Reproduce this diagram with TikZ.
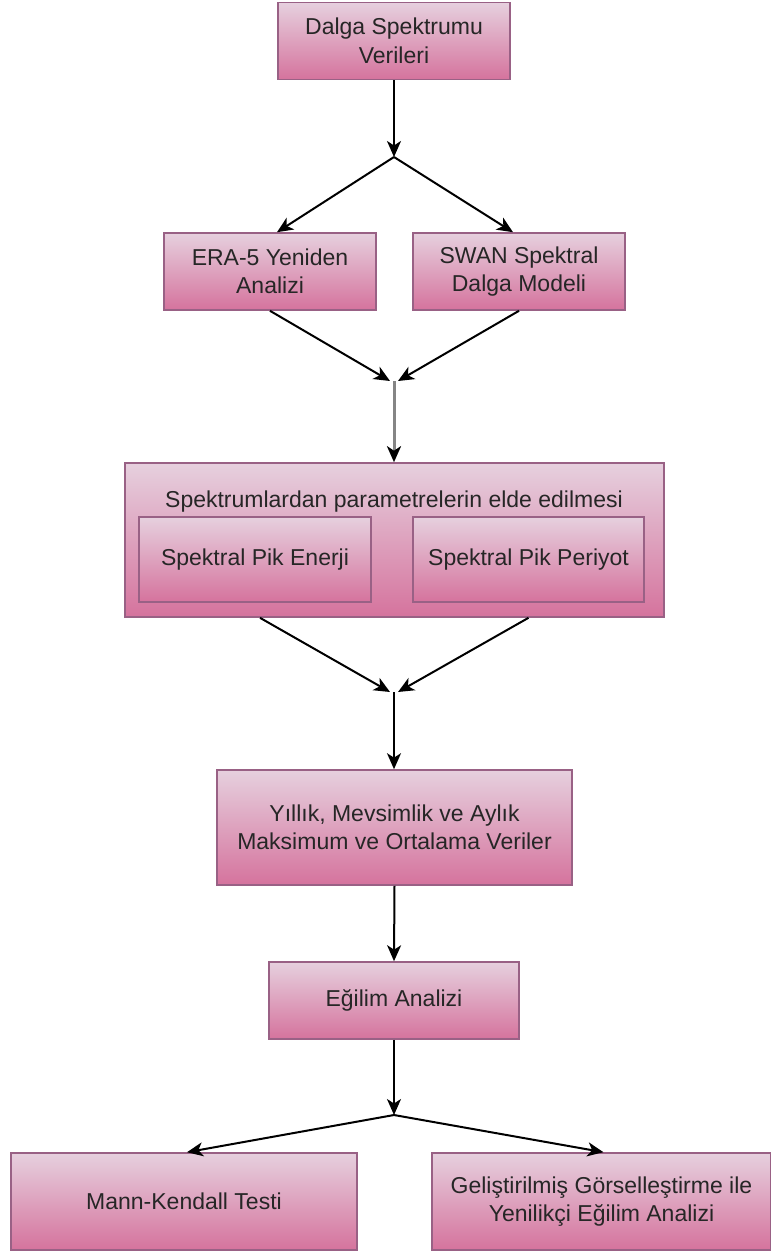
\documentclass[tikz,border=0pt]{standalone}
\usepackage{fontspec}
\setmainfont{Liberation Sans}
\usetikzlibrary{arrows.meta}
\usetikzlibrary{positioning}
\definecolor{pinkTop}{HTML}{E6D0DE}
\definecolor{pinkBot}{HTML}{D5739D}
\definecolor{pinkLine}{HTML}{996185}
\definecolor{txtGray}{HTML}{262626}
\definecolor{lineGray}{HTML}{858585}

\begin{document}
\begin{tikzpicture}[x=1pt,y=-1pt,line width=1.6pt,
  >={Stealth[length=16pt,width=14pt,inset=4.5pt]},
  box/.style={rectangle,draw=pinkLine,top color=pinkTop,bottom color=pinkBot,
    text=txtGray,align=center,inner sep=0pt,font=\fontsize{23}{28.5}\selectfont},
  label text/.style={text=txtGray,inner sep=0pt,font=\fontsize{23}{28.5}\selectfont},
  flow/.style={->,black,line width=2pt}]

  \useasboundingbox (0,0) rectangle (771,1251);

  % boxes
  \node[box,minimum width=232pt,minimum height=77pt] (data) at (394,41) {Dalga Spektrumu\\Verileri};
  \node[box,minimum width=212pt,minimum height=77pt] (era) at (270,271.5) {ERA-5 Yeniden\\Analizi};
  \node[box,minimum width=212pt,minimum height=77pt] (swan) at (519,271.5) {SWAN Spektral\\Dalga Modeli};

  \node[box,minimum width=539pt,minimum height=154pt] (param) at (394.5,540) {};
  \node[label text,anchor=base] (paramtitle) at (394,507) {Spektrumlardan parametrelerin elde edilmesi};
  \node[box,minimum width=232pt,minimum height=85pt] (enerji) at (255,559.5) {Spektral Pik Enerji};
  \node[box,minimum width=231pt,minimum height=85pt] (periyot) at (528.5,559.5) {Spektral Pik Periyot};

  \node[box,minimum width=355pt,minimum height=115pt] (yillik) at (394.5,827.5) {Yıllık, Mevsimlik ve Aylık\\Maksimum ve Ortalama Veriler};
  \node[box,minimum width=250pt,minimum height=77pt] (egilim) at (394,1000.5) {Eğilim Analizi};
  \node[box,minimum width=346pt,minimum height=97pt] (mann) at (184,1201.5) {Mann-Kendall Testi};
  \node[box,minimum width=339pt,minimum height=97pt] (yenilikci) at (601.5,1201.5) {Geliştirilmiş Görselleştirme ile\\Yenilikçi Eğilim Analizi};

  % junctions
  \coordinate (j1) at (394,157);
  \coordinate (j2) at (394,381);
  \coordinate (j3) at (394,692);
  \coordinate (j4) at (394,1115);

  % connectors
  \draw[flow] (data.south) -- (j1);
  \draw[flow] (j1) -- ([xshift=7pt]era.north);
  \draw[flow] (j1) -- ([xshift=-6pt]swan.north);
  \draw[flow] (era.south) -- ([xshift=-4pt]j2);
  \draw[flow] (swan.south) -- ([xshift=4pt]j2);
  \draw[lineGray,line width=3pt,-{Stealth[length=16pt,width=14pt,inset=4.5pt,black]}] (j2) -- (j2 |- param.north);
  \draw[flow] (param.south -| enerji.south) ++(5,0) -- ([xshift=-4pt]j3);
  \draw[flow] (param.south -| periyot.south) -- ([xshift=4pt]j3);
  \draw[flow] (j3) -- (j3 |- yillik.north);
  \draw[flow] (yillik.south) -- (egilim.north);
  \draw[flow] (egilim.south) -- (j4);
  \draw[flow] (j4) -- ([xshift=3pt]mann.north);
  \draw[flow] (j4) -- ([xshift=2pt]yenilikci.north);
\end{tikzpicture}
\end{document}
